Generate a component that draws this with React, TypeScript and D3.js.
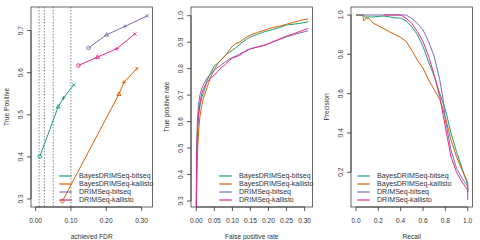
import * as d3 from "d3";

const seriesNames = [
  "BayesDRIMSeq-bitseq",
  "BayesDRIMSeq-kallisto",
  "DRIMSeq-bitseq",
  "DRIMSeq-kallisto",
];
const colors = ["#1B9E77", "#D95F02", "#7570B3", "#E7298A"];

// panel 1: achieved FDR vs TPR at thresholds 0.01, 0.025, 0.05, 0.1
const fdrThresholds = [0.01, 0.025, 0.05, 0.1];
const fdrPoints = [
  [0.012, 0.064, 0.079, 0.108],
  [0.076, 0.236, 0.25, 0.287],
  [0.15, 0.201, 0.253, 0.316],
  [0.121, 0.175, 0.23, 0.281],
];
const tprPoints = [
  [0.401, 0.519, 0.54, 0.571],
  [0.295, 0.549, 0.577, 0.61],
  [0.659, 0.69, 0.71, 0.735],
  [0.617, 0.637, 0.657, 0.692],
];

// panel 2: ROC
const fprGrid = [
  0, 0.001, 0.003, 0.006, 0.01, 0.015, 0.02, 0.03, 0.04, 0.05, 0.06, 0.07, 0.08,
  0.09, 0.1, 0.11, 0.12, 0.13, 0.14, 0.15, 0.17, 0.19, 0.21, 0.23, 0.25, 0.27,
  0.29, 0.31,
];
const rocTpr = [
  [0.27, 0.45, 0.56, 0.62, 0.66, 0.69, 0.71, 0.755, 0.785, 0.81, 0.822, 0.835, 0.85, 0.86, 0.87, 0.88, 0.892, 0.902, 0.912, 0.92, 0.93, 0.94, 0.947, 0.955, 0.965, 0.968, 0.972, 0.977],
  [0.27, 0.35, 0.47, 0.56, 0.62, 0.66, 0.69, 0.73, 0.77, 0.797, 0.82, 0.835, 0.848, 0.868, 0.885, 0.895, 0.9, 0.91, 0.92, 0.927, 0.937, 0.946, 0.955, 0.96, 0.968, 0.975, 0.983, 0.988],
  [0.27, 0.5, 0.6, 0.66, 0.7, 0.725, 0.74, 0.765, 0.78, 0.795, 0.805, 0.815, 0.825, 0.835, 0.842, 0.848, 0.855, 0.862, 0.87, 0.875, 0.882, 0.89, 0.9, 0.91, 0.92, 0.928, 0.936, 0.943],
  [0.27, 0.45, 0.56, 0.63, 0.67, 0.705, 0.725, 0.75, 0.765, 0.775, 0.79, 0.805, 0.815, 0.83, 0.84, 0.845, 0.85, 0.86, 0.868, 0.875, 0.882, 0.888, 0.9, 0.912, 0.923, 0.932, 0.942, 0.952],
];

// panel 3: precision-recall
const prRecall = [
  [0, 0.07, 0.08, 0.15, 0.25, 0.3, 0.35, 0.4, 0.45, 0.5, 0.55, 0.6, 0.65, 0.7, 0.75, 0.8, 0.85, 0.9, 0.95, 1.0, 1.0],
  [0, 0.06, 0.07, 0.09, 0.12, 0.15, 0.2, 0.25, 0.3, 0.35, 0.4, 0.45, 0.5, 0.55, 0.6, 0.65, 0.7, 0.75, 0.8, 0.85, 0.9, 0.95, 1.0, 1.0],
  [0, 0.2, 0.3, 0.45, 0.5, 0.55, 0.6, 0.65, 0.7, 0.75, 0.78, 0.8, 0.85, 0.9, 0.95, 1.0, 1.0],
  [0.25, 0.4, 0.45, 0.5, 0.55, 0.6, 0.65, 0.7, 0.75, 0.8, 0.85, 0.9, 0.95, 1.0, 1.0],
];
const prPrecision = [
  [1.0, 1.0, 0.99, 0.99, 0.995, 0.99, 0.985, 0.985, 0.97, 0.94, 0.9, 0.84, 0.76, 0.69, 0.6, 0.52, 0.4, 0.305, 0.22, 0.135, 0.1],
  [1.0, 1.0, 0.97, 0.985, 0.98, 0.96, 0.945, 0.93, 0.915, 0.9, 0.886, 0.865, 0.82, 0.77, 0.73, 0.67, 0.62, 0.57, 0.48, 0.365, 0.28, 0.21, 0.15, 0.1],
  [1.0, 1.0, 1.0, 1.0, 0.983, 0.957, 0.924, 0.865, 0.79, 0.67, 0.57, 0.467, 0.314, 0.22, 0.17, 0.127, 0.1],
  [1.0, 1.0, 0.983, 0.957, 0.915, 0.865, 0.79, 0.695, 0.585, 0.43, 0.28, 0.2, 0.15, 0.11, 0.06],
];

const ticks1x = [0, 0.1, 0.2, 0.3];
const ticks1y = [0.3, 0.4, 0.5, 0.6, 0.7];
const ticks2x = [0, 0.05, 0.1, 0.15, 0.2, 0.25, 0.3];
const ticks2y = [0.3, 0.4, 0.5, 0.6, 0.7, 0.8, 0.9, 1.0];
const ticks3x = [0, 0.2, 0.4, 0.6, 0.8, 1.0];
const ticks3y = [0.2, 0.4, 0.6, 0.8, 1.0];

const font = "Liberation Sans, Arial, Helvetica, sans-serif";
const top = 7;
const bottom = 207;
const pw = 121.5;
const axisFont = 6.6;
const legendFont = 7.1;

type PanelProps = {
  id: string;
  left: number;
  xDomain: [number, number];
  yDomain: [number, number];
  xTicks: number[];
  yTicks: number[];
  xFmt: (v: number) => string;
  yFmt: (v: number) => string;
  xTitle: string;
  yTitle: string;
  legendX: number;
  children: (x: d3.ScaleLinear<number, number>, y: d3.ScaleLinear<number, number>) => any;
};

const Panel = (p: PanelProps) => {
  const x = d3.scaleLinear().domain(p.xDomain).range([p.left, p.left + pw]);
  const y = d3.scaleLinear().domain(p.yDomain).range([bottom, top]);
  const xs = p.xTicks.map(x);
  const ys = p.yTicks.map(y);
  return (
    <g>
      <defs>
        <clipPath id={p.id}>
          <rect x={p.left} y={top} width={pw} height={bottom - top} />
        </clipPath>
      </defs>
      <g clipPath={`url(#${p.id})`}>{p.children(x, y)}</g>
      <rect x={p.left} y={top} width={pw} height={bottom - top} fill="none" stroke="#444" strokeWidth={0.8} />
      {/* x axis */}
      <line x1={xs[0]} x2={xs[xs.length - 1]} y1={bottom} y2={bottom} stroke="#333" strokeWidth={0.8} />
      {p.xTicks.map((t, i) => (
        <g key={"x" + i}>
          <line x1={xs[i]} x2={xs[i]} y1={bottom} y2={bottom + 4} stroke="#333" strokeWidth={0.8} />
          <text x={xs[i]} y={223} textAnchor="middle" fontSize={axisFont} fontFamily={font} fill="#333">
            {p.xFmt(t)}
          </text>
        </g>
      ))}
      {/* y axis */}
      <line x1={p.left} x2={p.left} y1={ys[0]} y2={ys[ys.length - 1]} stroke="#333" strokeWidth={0.8} />
      {p.yTicks.map((t, i) => (
        <g key={"y" + i}>
          <line x1={p.left - 4} x2={p.left} y1={ys[i]} y2={ys[i]} stroke="#333" strokeWidth={0.8} />
          <text
            transform={`translate(${p.left - 8.5},${ys[i]}) rotate(-90)`}
            textAnchor="middle"
            fontSize={axisFont}
            fontFamily={font}
            fill="#333"
          >
            {p.yFmt(t)}
          </text>
        </g>
      ))}
      <text x={p.left + pw / 2} y={238.5} textAnchor="middle" fontSize={axisFont} fontFamily={font} fill="#333">
        {p.xTitle}
      </text>
      <text
        transform={`translate(${p.left - 22.5},${(top + bottom) / 2}) rotate(-90)`}
        textAnchor="middle"
        fontSize={axisFont}
        fontFamily={font}
        fill="#333"
      >
        {p.yTitle}
      </text>
      {/* legend */}
      {seriesNames.map((n, i) => (
        <g key={n}>
          <line
            x1={p.left + p.legendX}
            x2={p.left + p.legendX + 12.4}
            y1={176 + i * 8}
            y2={176 + i * 8}
            stroke={colors[i]}
            strokeWidth={1.2}
          />
          <text
            x={p.left + p.legendX + 19.7}
            y={178.4 + i * 8}
            fontSize={legendFont}
            fontFamily={font}
            fill="#333"
          >
            {n}
          </text>
        </g>
      ))}
    </g>
  );
};

const marker = (k: number, cx: number, cy: number, c: string, key: string) => {
  const s = 2;
  if (k === 0)
    return <circle key={key} cx={cx} cy={cy} r={1.8} fill="none" stroke={c} strokeWidth={0.9} />;
  if (k === 1)
    return (
      <path
        key={key}
        d={`M${cx},${cy - 2.2}L${cx + 2},${cy + 1.3}L${cx - 2},${cy + 1.3}Z`}
        fill="none"
        stroke={c}
        strokeWidth={0.9}
      />
    );
  if (k === 2)
    return (
      <path key={key} d={`M${cx - s},${cy}H${cx + s}M${cx},${cy - s}V${cy + s}`} stroke={c} strokeWidth={0.9} />
    );
  return (
    <path
      key={key}
      d={`M${cx - 1.6},${cy - 1.6}L${cx + 1.6},${cy + 1.6}M${cx - 1.6},${cy + 1.6}L${cx + 1.6},${cy - 1.6}`}
      stroke={c}
      strokeWidth={0.9}
    />
  );
};

export default function App() {
  const line = d3.line<[number, number]>();
  return (
    <svg
      width={480}
      height={240}
      style={{ position: "absolute", left: 0, top: 0, background: "#fff" }}
    >
      <Panel
        id="c1"
        left={31}
        xDomain={[-0.013, 0.331]}
        yDomain={[0.281, 0.756]}
        xTicks={ticks1x}
        yTicks={ticks1y}
        xFmt={d3.format(".2f")}
        yFmt={d3.format(".1f")}
        xTitle="achieved FDR"
        yTitle="True Positive"
        legendX={28.3}
      >
        {(x, y) => (
          <g>
            {fdrThresholds.map((t) => (
              <line key={t} x1={x(t)} x2={x(t)} y1={top} y2={bottom} stroke="#555" strokeWidth={0.7} strokeDasharray="1.5,1.5" />
            ))}
            {seriesNames.map((n, i) => (
              <g key={n}>
                <path
                  d={line(fdrPoints[i].map((f, j) => [x(f), y(tprPoints[i][j])])) ?? ""}
                  fill="none"
                  stroke={colors[i]}
                  strokeWidth={1}
                />
                {fdrPoints[i].map((f, j) => marker(j, x(f), y(tprPoints[i][j]), colors[i], n + j))}
              </g>
            ))}
          </g>
        )}
      </Panel>
      <Panel
        id="c2"
        left={191}
        xDomain={[-0.0147, 0.3219]}
        yDomain={[0.2773, 1.0329]}
        xTicks={ticks2x}
        yTicks={ticks2y}
        xFmt={d3.format(".2f")}
        yFmt={d3.format(".1f")}
        xTitle="False positive rate"
        yTitle="True positive rate"
        legendX={28.3}
      >
        {(x, y) => (
          <g>
            {seriesNames.map((n, i) => (
              <path
                key={n}
                d={line(fprGrid.map((f, j) => [x(f), y(rocTpr[i][j])])) ?? ""}
                fill="none"
                stroke={colors[i]}
                strokeWidth={1}
              />
            ))}
          </g>
        )}
      </Panel>
      <Panel
        id="c3"
        left={351}
        xDomain={[-0.0448, 1.043]}
        yDomain={[0.0234, 1.0407]}
        xTicks={ticks3x}
        yTicks={ticks3y}
        xFmt={d3.format(".1f")}
        yFmt={d3.format(".1f")}
        xTitle="Recall"
        yTitle="Precision"
        legendX={6.3}
      >
        {(x, y) => (
          <g>
            {seriesNames.map((n, i) => (
              <path
                key={n}
                d={line(prRecall[i].map((r, j) => [x(r), y(prPrecision[i][j])])) ?? ""}
                fill="none"
                stroke={colors[i]}
                strokeWidth={1}
              />
            ))}
          </g>
        )}
      </Panel>
    </svg>
  );
}
